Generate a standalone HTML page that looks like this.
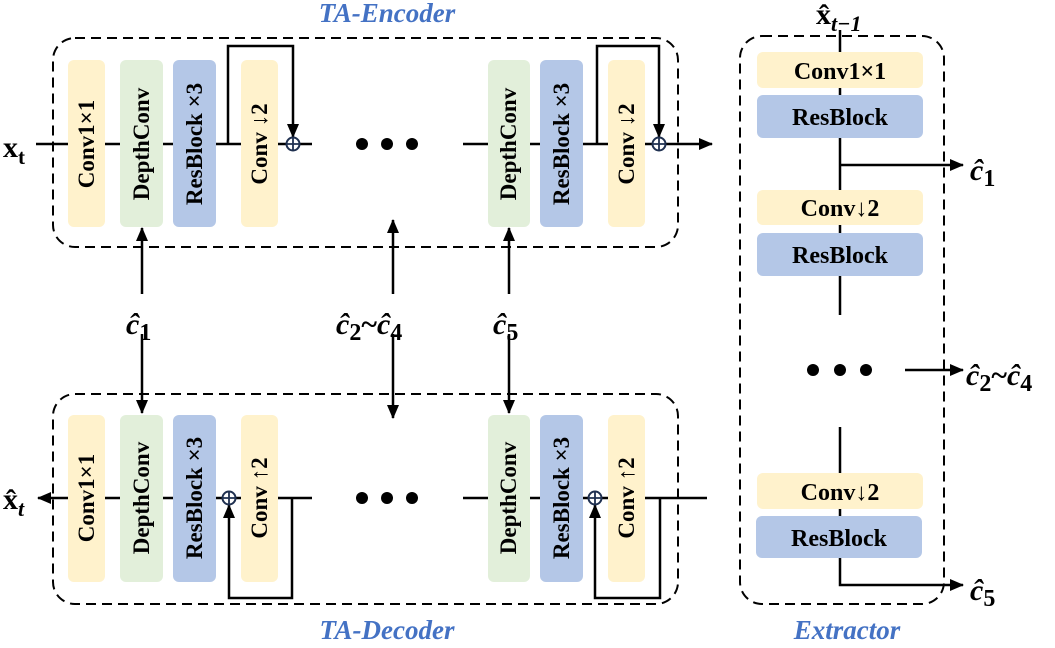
<!DOCTYPE html>
<html><head><meta charset="utf-8"><style>html,body{margin:0;padding:0;background:#fff}</style></head>
<body>
<svg width="1055" height="643" viewBox="0 0 1055 643" xmlns="http://www.w3.org/2000/svg" font-family="Liberation Serif, serif" font-weight="bold">
<defs>
<marker id="a" markerWidth="14" markerHeight="12" refX="13" refY="6" orient="auto" markerUnits="userSpaceOnUse"><path d="M0,0 L14,6 L0,12 z" fill="#000"/></marker>
</defs>
<g fill="none" stroke="#000" stroke-width="2" stroke-dasharray="10,6">
<rect x="53" y="38" width="625" height="209" rx="22"/>
<rect x="53" y="394" width="625" height="210" rx="22"/>
<rect x="740" y="36" width="204" height="568" rx="22"/>
</g>
<g stroke="#000" stroke-width="2.5" fill="none">
<line x1="36" y1="144" x2="312" y2="144"/>
<line x1="463" y1="144" x2="712" y2="144" marker-end="url(#a)"/>
<polyline points="228,144 228,46 293,46 293,137" marker-end="url(#a)"/>
<polyline points="597,144 597,46 659,46 659,137" marker-end="url(#a)"/>
<line x1="312" y1="498" x2="38" y2="498" marker-end="url(#a)"/>
<line x1="463" y1="498" x2="707" y2="498"/>
<polyline points="292,498 292,598 229,598 229,505" marker-end="url(#a)"/>
<polyline points="660,498 660,598 595,598 595,505" marker-end="url(#a)"/>
<line x1="142" y1="294" x2="142" y2="228" marker-end="url(#a)"/>
<line x1="142" y1="334" x2="142" y2="413" marker-end="url(#a)"/>
<line x1="393" y1="294" x2="393" y2="220" marker-end="url(#a)"/>
<line x1="393" y1="334" x2="393" y2="418" marker-end="url(#a)"/>
<line x1="509" y1="294" x2="509" y2="228" marker-end="url(#a)"/>
<line x1="509" y1="334" x2="509" y2="413" marker-end="url(#a)"/>
<line x1="840" y1="30" x2="840" y2="315"/>
<line x1="840" y1="165" x2="963" y2="165" marker-end="url(#a)"/>
<line x1="905" y1="370" x2="963" y2="370" marker-end="url(#a)"/>
<polyline points="840,427 840,585 963,585" marker-end="url(#a)"/>
</g>
<g fill="#fff" stroke="#1f3050" stroke-width="2">
<circle cx="293" cy="144" r="6.5"/><circle cx="659" cy="144" r="6.5"/>
<circle cx="229" cy="498" r="6.5"/><circle cx="595" cy="498" r="6.5"/>
</g>
<g stroke="#1f3050" stroke-width="1.8">
<path d="M286.5,144h13M293,137.5v13M652.5,144h13M659,137.5v13M222.5,498h13M229,491.5v13M588.5,498h13M595,491.5v13"/>
</g>
<g>
<rect x="68" y="60" width="37" height="167" rx="6" fill="#fff2cc"/>
<rect x="120" y="60" width="43" height="167" rx="6" fill="#e2efda"/>
<rect x="173" y="60" width="43" height="167" rx="6" fill="#b4c7e7"/>
<rect x="241" y="60" width="37" height="167" rx="6" fill="#fff2cc"/>
<rect x="488" y="60" width="42" height="167" rx="6" fill="#e2efda"/>
<rect x="540" y="60" width="43" height="167" rx="6" fill="#b4c7e7"/>
<rect x="608" y="60" width="37" height="167" rx="6" fill="#fff2cc"/>
<rect x="68" y="415" width="37" height="167" rx="6" fill="#fff2cc"/>
<rect x="120" y="415" width="43" height="167" rx="6" fill="#e2efda"/>
<rect x="173" y="415" width="43" height="167" rx="6" fill="#b4c7e7"/>
<rect x="241" y="415" width="37" height="167" rx="6" fill="#fff2cc"/>
<rect x="488" y="415" width="42" height="167" rx="6" fill="#e2efda"/>
<rect x="540" y="415" width="43" height="167" rx="6" fill="#b4c7e7"/>
<rect x="608" y="415" width="37" height="167" rx="6" fill="#fff2cc"/>
<rect x="757" y="52" width="166" height="36" rx="6" fill="#fff2cc"/>
<rect x="757" y="95" width="166" height="43" rx="6" fill="#b4c7e7"/>
<rect x="757" y="190" width="166" height="35" rx="6" fill="#fff2cc"/>
<rect x="757" y="233" width="166" height="43" rx="6" fill="#b4c7e7"/>
<rect x="757" y="473" width="166" height="36" rx="6" fill="#fff2cc"/>
<rect x="756" y="516" width="166" height="42" rx="6" fill="#b4c7e7"/>
</g>
<g font-size="23" text-anchor="middle" fill="#000">
<text transform="translate(94,144) rotate(-90)">Conv1×1</text>
<text transform="translate(149,144) rotate(-90)">DepthConv</text>
<text transform="translate(202,144) rotate(-90)">ResBlock ×3</text>
<text transform="translate(267,144) rotate(-90)">Conv ↓2</text>
<text transform="translate(516,144) rotate(-90)">DepthConv</text>
<text transform="translate(569,144) rotate(-90)">ResBlock ×3</text>
<text transform="translate(634,144) rotate(-90)">Conv ↓2</text>
<text transform="translate(94,498) rotate(-90)">Conv1×1</text>
<text transform="translate(149,498) rotate(-90)">DepthConv</text>
<text transform="translate(202,498) rotate(-90)">ResBlock ×3</text>
<text transform="translate(267,498) rotate(-90)">Conv ↑2</text>
<text transform="translate(516,498) rotate(-90)">DepthConv</text>
<text transform="translate(569,498) rotate(-90)">ResBlock ×3</text>
<text transform="translate(634,498) rotate(-90)">Conv ↑2</text>
</g>
<g font-size="24" text-anchor="middle" fill="#000">
<text x="840" y="79">Conv1×1</text>
<text x="840" y="125">ResBlock</text>
<text x="840" y="216">Conv↓2</text>
<text x="840" y="263">ResBlock</text>
<text x="840" y="500">Conv↓2</text>
<text x="839" y="546">ResBlock</text>
</g>
<g fill="#000">
<circle cx="362" cy="144" r="6"/><circle cx="387" cy="144" r="6"/><circle cx="412" cy="144" r="6"/>
<circle cx="362" cy="498" r="6"/><circle cx="387" cy="498" r="6"/><circle cx="412" cy="498" r="6"/>
<circle cx="813" cy="370" r="6"/><circle cx="840" cy="370" r="6"/><circle cx="866" cy="370" r="6"/>
</g>
<g fill="#4472c4" font-style="italic" font-size="27" text-anchor="middle">
<text x="387" y="22">TA-Encoder</text>
<text x="387" y="639">TA-Decoder</text>
<text x="847" y="639">Extractor</text>
</g>
<g font-size="30" fill="#000">
<text x="3" y="157">x<tspan font-size="21" dy="7">t</tspan></text>
<text x="3" y="509">x̂<tspan font-size="22" dy="7" font-style="italic">t</tspan></text>
<text x="816" y="24">x̂<tspan font-size="22" dy="7" font-style="italic">t−1</tspan></text>
<text x="126" y="334" font-style="italic">ĉ<tspan font-size="24" dy="6" font-style="normal">1</tspan></text>
<text x="336" y="334" font-style="italic">ĉ<tspan font-size="24" dy="6" font-style="normal">2</tspan><tspan dy="-6" font-style="normal">~</tspan>ĉ<tspan font-size="24" dy="6" font-style="normal">4</tspan></text>
<text x="493" y="334" font-style="italic">ĉ<tspan font-size="24" dy="6" font-style="normal">5</tspan></text>
<text x="970" y="180" font-style="italic">ĉ<tspan font-size="24" dy="6" font-style="normal">1</tspan></text>
<text x="966" y="385" font-style="italic">ĉ<tspan font-size="24" dy="6" font-style="normal">2</tspan><tspan dy="-6" font-style="normal">~</tspan>ĉ<tspan font-size="24" dy="6" font-style="normal">4</tspan></text>
<text x="970" y="600" font-style="italic">ĉ<tspan font-size="24" dy="6" font-style="normal">5</tspan></text>
</g>
</svg>
</body></html>
